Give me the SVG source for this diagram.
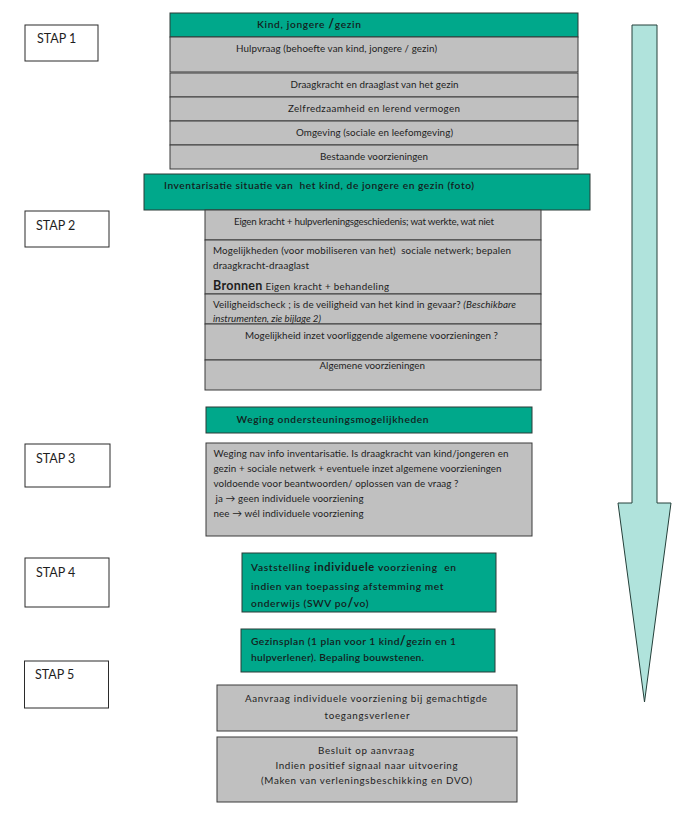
<svg xmlns="http://www.w3.org/2000/svg" width="695" height="823" viewBox="0 0 695 823">
<style>
.bg{fill:#ffffff}
.step{fill:#ffffff;stroke:#2b2b2b;stroke-width:1}
.green{fill:#00a88b;stroke:#2b3a36;stroke-width:1}
.gray{fill:#c0c0c0;stroke:#3a3a3a;stroke-width:1}
text{font-family:Lato,"Liberation Sans",Arial,sans-serif;fill:#1e1e1e}
.st{font-size:12.5px}
.t{font-size:9.8px}
.g{font-size:10.2px;font-weight:600;fill:#14201c}
.b{font-weight:bold}
.i{font-style:italic}
.arrow{fill:#b0e3dc;stroke:#25403a;stroke-width:1}
</style>
<rect class="bg" x="0" y="0" width="695" height="823"/>

<g id="stap1"><rect class="step" x="25" y="25" width="73" height="36"/><text class="st" x="37" y="43">STAP 1</text></g>
<g id="stap2"><rect class="step" x="25" y="211" width="84" height="36"/><text class="st" x="36" y="230">STAP 2</text></g>
<g id="stap3"><rect class="step" x="25" y="444" width="85" height="43"/><text class="st" x="36" y="463">STAP 3</text></g>
<g id="stap4"><rect class="step" x="25" y="558" width="84" height="49"/><text class="st" x="36" y="577">STAP 4</text></g>
<g id="stap5"><rect class="step" x="24.5" y="661" width="84" height="47"/><text class="st" x="35" y="679">STAP 5</text></g>

<g id="kind"><rect class="green" x="170" y="13" width="408" height="24"/><text class="g" x="257" y="28" textLength="104" lengthAdjust="spacing">Kind, jongere <tspan class="b" font-size="12.5px">/</tspan>gezin</text></g>
<g id="hulpvraag"><rect class="gray" x="170" y="37" width="408" height="35"/><text class="t" x="236" y="52" textLength="201" lengthAdjust="spacing">Hulpvraag (behoefte van kind, jongere / gezin)</text></g>
<g id="draagkracht"><rect class="gray" x="170" y="73" width="408" height="24"/><text class="t" x="290.5" y="88" textLength="168" lengthAdjust="spacing">Draagkracht en draaglast van het gezin</text></g>
<g id="zelfredzaamheid"><rect class="gray" x="170" y="97" width="408" height="24"/><text class="t" x="288" y="112" textLength="172" lengthAdjust="spacing">Zelfredzaamheid en lerend vermogen</text></g>
<g id="omgeving"><rect class="gray" x="170" y="121" width="408" height="24"/><text class="t" x="296" y="136" textLength="157" lengthAdjust="spacing">Omgeving (sociale en leefomgeving)</text></g>
<g id="bestaande"><rect class="gray" x="170" y="145" width="408" height="24"/><text class="t" x="320" y="160" textLength="108" lengthAdjust="spacing">Bestaande voorzieningen</text></g>

<g id="inventarisatie"><rect class="green" x="144" y="174" width="446" height="36"/><text class="g" x="164" y="189" xml:space="preserve" textLength="310" lengthAdjust="spacing">Inventarisatie situatie van  het kind, de jongere en gezin (foto)</text></g>
<g id="eigenkracht"><rect class="gray" x="205" y="210" width="336" height="30"/><text class="t" x="234" y="225" textLength="260" lengthAdjust="spacing">Eigen kracht + hulpverleningsgeschiedenis; wat werkte, wat niet</text></g>
<g id="mogelijkheden"><rect class="gray" x="205" y="240" width="336" height="54"/>
<text class="t" x="213" y="254" xml:space="preserve" textLength="298" lengthAdjust="spacing">Mogelijkheden (voor mobiliseren van het)  sociale netwerk; bepalen</text>
<text class="t" x="213" y="269" textLength="96" lengthAdjust="spacing">draagkracht-draaglast</text>
<text class="t" x="213" y="290" textLength="176" lengthAdjust="spacing"><tspan class="b" font-size="12.5px">Bronnen</tspan> Eigen kracht + behandeling</text></g>
<g id="veiligheidscheck"><rect class="gray" x="205" y="294" width="336" height="30"/>
<text class="t" x="213" y="308" textLength="303" lengthAdjust="spacing">Veiligheidscheck ; is de veiligheid van het kind in gevaar? <tspan class="i">(Beschikbare</tspan></text>
<text class="t i" x="213" y="322" textLength="108" lengthAdjust="spacing">instrumenten, zie bijlage 2)</text></g>
<g id="mogelijkheid-inzet"><rect class="gray" x="205" y="324" width="336" height="36"/><text class="t" x="245" y="339" textLength="253" lengthAdjust="spacing">Mogelijkheid inzet voorliggende algemene voorzieningen ?</text></g>
<g id="algemene"><rect class="gray" x="205" y="360" width="336" height="30"/><text class="t" x="319.5" y="369" textLength="105.5" lengthAdjust="spacing">Algemene voorzieningen</text></g>

<g id="weging-kop"><rect class="green" x="206" y="407" width="326" height="26"/><text class="g" x="236.5" y="423" textLength="192" lengthAdjust="spacing">Weging ondersteuningsmogelijkheden</text></g>
<g id="weging"><rect class="gray" x="206" y="443" width="326" height="93"/>
<text class="t" x="213.5" y="457" textLength="295" lengthAdjust="spacing">Weging nav info inventarisatie. Is draagkracht van kind/jongeren en</text>
<text class="t" x="213.5" y="472" textLength="288" lengthAdjust="spacing">gezin + sociale netwerk + eventuele inzet algemene voorzieningen</text>
<text class="t" x="213.5" y="487" textLength="245" lengthAdjust="spacing">voldoende voor beantwoorden/ oplossen van de vraag ?</text>
<text class="t" x="215.5" y="502" textLength="148" lengthAdjust="spacing">ja → geen individuele voorziening</text>
<text class="t" x="213.5" y="517" textLength="150" lengthAdjust="spacing">nee → wél individuele voorziening</text></g>

<g id="vaststelling"><rect class="green" x="242" y="553" width="254" height="59"/>
<text class="g" x="251" y="571" xml:space="preserve" textLength="205" lengthAdjust="spacing">Vaststelling <tspan class="b" font-size="11px">individuele</tspan> voorziening  en</text>
<text class="g" x="251" y="590" textLength="192.5" lengthAdjust="spacing">indien van toepassing afstemming met</text>
<text class="g" x="251" y="607" textLength="117.5" lengthAdjust="spacing">onderwijs (SWV po<tspan class="b" font-size="12.5px">/</tspan>vo)</text></g>
<g id="gezinsplan"><rect class="green" x="241" y="629" width="254" height="43"/>
<text class="g" x="251" y="645" textLength="205" lengthAdjust="spacing">Gezinsplan (1 plan voor 1 kind<tspan class="b" font-size="12.5px">/</tspan>gezin en 1</text>
<text class="g" x="251" y="661" textLength="173" lengthAdjust="spacing">hulpverlener). Bepaling bouwstenen.</text></g>
<g id="aanvraag"><rect class="gray" x="217" y="685" width="300" height="46"/>
<text class="t" x="245" y="702" textLength="242" lengthAdjust="spacing">Aanvraag individuele voorziening bij gemachtigde</text>
<text class="t" x="324.5" y="719" textLength="85" lengthAdjust="spacing">toegangsverlener</text></g>
<g id="besluit"><rect class="gray" x="217" y="737" width="300" height="65"/>
<text class="t" x="318" y="754" textLength="96" lengthAdjust="spacing">Besluit op aanvraag</text>
<text class="t" x="275.5" y="769" textLength="182" lengthAdjust="spacing">Indien positief signaal naar uitvoering</text>
<text class="t" x="261" y="784" textLength="211" lengthAdjust="spacing">(Maken van verleningsbeschikking en DVO)</text></g>

<g id="connectors">
<polygon class="arrow" points="632,25 657,25 657,503 671,503 644.5,702 618,503 632,503"/>
</g>
</svg>
